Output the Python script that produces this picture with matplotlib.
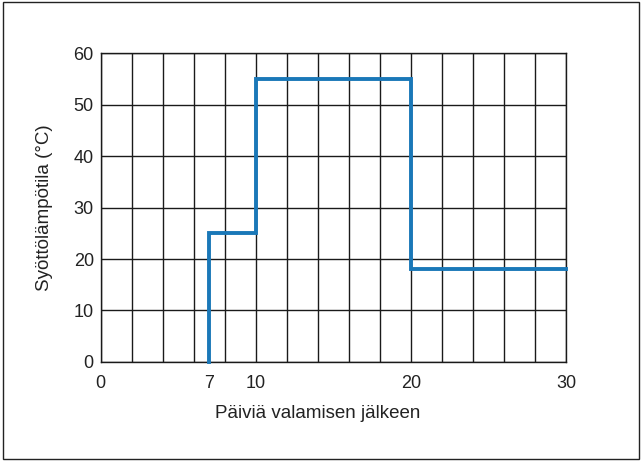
import matplotlib.pyplot as plt
import numpy as np

plt.rcParams['font.family'] = ['Liberation Sans', 'DejaVu Sans']

# Dados
paivat = [7, 7, 10, 10, 20, 20, 30]
lampotila = [0, 25, 25, 55, 55, 18, 18]
x_ticks = [0, 7, 10, 20, 30]
y_ticks = [0, 10, 20, 30, 40, 50, 60]

fig = plt.figure(figsize=(6.42, 4.61), dpi=100)
ax = fig.add_axes([0.157, 0.2148, 0.725, 0.670])

# ruudukko
for gx in np.arange(0, 31, 2):
    ax.axvline(gx, color='#1a1a1a', linewidth=1.0, zorder=1)
for gy in y_ticks:
    ax.axhline(gy, color='#1a1a1a', linewidth=1.0, zorder=1)

ax.plot(paivat, lampotila, color='#1a78b8', linewidth=2.8, zorder=3,
        solid_joinstyle='miter', clip_on=False)

ax.set_xlim(0, 30)
ax.set_ylim(0, 60)
ax.set_xticks(x_ticks)
ax.set_yticks(y_ticks)
ax.tick_params(length=0, labelsize=13, colors='#222222')
ax.tick_params(axis='x', pad=9.5)
ax.tick_params(axis='y', pad=5)
for s in ax.spines.values():
    s.set_linewidth(1.0)
    s.set_color('#1a1a1a')

ax.set_xlabel('Päiviä valamisen jälkeen', fontsize=13.5, color='#222222')
ax.xaxis.set_label_coords(0.465, -0.138)
ax.set_ylabel('Syöttölämpötila (°C)', fontsize=13.5, color='#222222', labelpad=15)

# kehys
fig.patches.append(plt.Rectangle((0.004, 0.004), 0.992, 0.992, transform=fig.transFigure,
                                 fill=False, edgecolor='#222222', linewidth=1.0))

fig.savefig('out.png', dpi=100)
